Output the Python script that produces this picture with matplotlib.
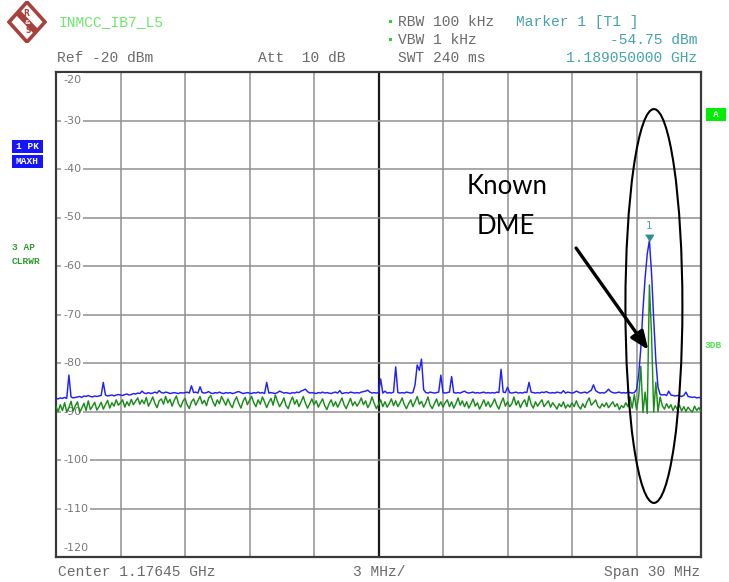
import numpy as np
import matplotlib
matplotlib.use("Agg")
import matplotlib.pyplot as plt
from matplotlib.patches import Ellipse, Polygon, Rectangle
from matplotlib.transforms import offset_copy

# ---- instrument settings -------------------------------------------------
center_ghz = 1.17645
span_mhz = 30.0
ref_level_dbm = -20
y_bottom_dbm = -120
n_points = 301
freq_offset_mhz = np.linspace(-span_mhz / 2, span_mhz / 2, n_points)

# ---- trace 1: PK / MAXH (dBm) ---------------------------------------------
trace1_maxhold = [
    -87.3, -87.4, -87.2, -87.3, -87.1, -87.3, -82.5, -87.0, -87.2, -87.1,
    -87.0, -86.9, -87.1, -86.8, -86.9, -86.7, -86.9, -87.0, -86.8, -86.9,
    -86.8, -86.7, -84.0, -86.6, -86.8, -86.7, -86.6, -86.8, -86.6, -86.5,
    -86.6, -86.7, -86.5, -86.4, -86.6, -86.5, -86.3, -86.4, -86.2, -86.3,
    -85.8, -86.2, -86.3, -86.1, -86.3, -86.2, -86.0, -86.2, -85.7, -86.1,
    -86.2, -86.0, -86.1, -86.3, -86.2, -86.1, -86.2, -86.3, -86.1, -86.2,
    -86.1, -86.0, -86.2, -84.7, -86.1, -86.0, -86.2, -84.9, -86.1, -86.2,
    -86.1, -85.9, -86.2, -86.3, -86.1, -86.2, -86.0, -86.2, -86.3, -86.1,
    -86.2, -86.1, -86.3, -86.2, -86.0, -85.9, -86.1, -86.3, -86.2, -86.1,
    -86.2, -86.3, -86.1, -86.2, -86.0, -86.2, -86.1, -86.3, -84.0, -86.2,
    -86.1, -86.2, -86.3, -86.1, -85.8, -86.0, -86.2, -86.1, -86.2, -86.3,
    -86.1, -86.2, -86.0, -86.1, -85.8, -85.6, -85.4, -85.9, -86.2, -86.1,
    -86.2, -86.3, -86.1, -86.2, -86.0, -86.2, -86.1, -86.2, -86.3, -86.1,
    -86.0, -86.2, -85.7, -86.3, -86.2, -86.1, -86.2, -86.0, -86.1, -86.2,
    -86.1, -86.2, -86.0, -85.9, -85.8, -85.6, -86.0, -86.2, -86.1, -86.2,
    -86.1, -83.3, -86.2, -85.8, -86.2, -86.1, -86.2, -86.0, -80.8, -86.1,
    -86.2, -86.1, -86.2, -86.0, -86.1, -86.2, -86.1, -84.5, -80.4, -81.5,
    -79.2, -85.5, -86.1, -86.2, -86.0, -86.1, -86.2, -86.1, -86.0, -82.5,
    -86.1, -86.2, -86.1, -86.0, -82.8, -86.1, -86.2, -86.1, -86.2, -86.0,
    -85.8, -86.1, -86.2, -86.1, -86.0, -86.2, -86.1, -86.2, -86.1, -86.0,
    -86.2, -86.1, -86.2, -86.1, -86.2, -86.0, -86.1, -81.3, -86.0, -86.1,
    -85.0, -86.1, -86.2, -86.1, -86.0, -86.2, -86.1, -86.2, -86.0, -86.1,
    -84.0, -86.0, -86.1, -86.2, -86.1, -86.2, -86.0, -86.1, -85.9, -86.1,
    -86.2, -86.1, -86.2, -86.0, -86.1, -86.2, -85.7, -86.2, -86.0, -86.1,
    -86.2, -86.1, -85.8, -86.0, -86.2, -86.1, -86.0, -86.2, -85.9, -85.6,
    -84.5, -85.7, -86.0, -86.2, -86.1, -86.2, -85.9, -85.4, -85.9, -86.1,
    -86.2, -86.1, -86.0, -86.2, -86.1, -86.2, -86.0, -86.1, -86.2, -86.1,
    -85.5, -82.5, -77.0, -69.0, -62.5, -57.5, -54.75, -61.5, -71.0, -79.5,
    -85.0, -86.5, -86.6, -86.5, -86.7, -85.8, -86.6, -86.7, -86.8, -86.7,
    -86.8, -86.9, -86.7, -86.0, -86.9, -87.0, -87.1, -87.0, -87.2, -87.1,
    -87.2,
]

# ---- trace 3: AP / CLRWR (dBm) --------------------------------------------
trace3_clearwrite = [
    -89.0, -90.0, -88.6, -89.8, -88.2, -90.1, -89.2, -87.9, -89.9, -88.8,
    -88.0, -90.2, -89.3, -88.3, -89.8, -87.8, -89.6, -88.9, -88.1, -89.7,
    -89.0, -88.1, -89.5, -88.6, -87.7, -89.3, -88.2, -88.9, -87.6, -88.7,
    -88.2, -87.6, -89.1, -88.0, -88.8, -87.5, -88.6, -87.9, -87.2, -88.5,
    -87.6, -88.4, -87.1, -88.9, -88.0, -87.0, -88.3, -89.2, -87.8, -87.4,
    -88.5, -86.9, -88.2, -87.5, -88.9, -87.7, -86.8, -88.4, -89.1, -87.9,
    -87.3, -88.6, -89.4, -88.0, -87.4, -88.7, -87.8, -86.9, -88.4, -87.7,
    -88.8, -87.2, -86.7, -88.0, -88.9, -87.6, -88.4, -86.9, -87.8, -88.7,
    -87.4, -88.5, -89.2, -87.8, -87.0, -88.3, -89.3, -87.9, -87.1, -88.6,
    -87.7, -86.9, -88.2, -89.0, -87.6, -88.5, -87.0, -88.0, -89.2, -88.1,
    -87.3, -88.7, -86.6, -87.9, -89.0, -88.2, -87.2, -88.8, -89.4, -88.0,
    -87.0, -88.5, -87.6, -89.0, -88.0, -86.9, -88.3, -89.3, -88.4, -87.4,
    -88.6, -87.8, -89.1, -88.2, -87.4, -88.8, -89.6, -88.4, -87.6, -88.9,
    -88.0, -89.1, -88.2, -87.2, -88.6, -89.4, -88.3, -87.3, -88.8, -88.0,
    -88.9, -88.2, -87.2, -88.6, -87.8, -89.2, -88.4, -87.0, -88.3, -89.4,
    -88.6, -87.6, -89.0, -88.0, -89.1, -88.4, -87.4, -88.8, -87.8, -89.0,
    -88.2, -87.2, -88.6, -89.4, -88.4, -87.6, -89.0, -88.0, -86.9, -88.5,
    -87.9, -89.1, -88.2, -87.0, -88.7, -89.4, -88.4, -87.4, -88.9, -88.0,
    -89.1, -88.2, -87.6, -89.0, -88.0, -89.3, -88.4, -87.2, -88.7, -87.8,
    -89.0, -88.0, -89.3, -88.4, -87.4, -88.9, -88.2, -89.5, -88.6, -87.6,
    -88.9, -88.0, -89.1, -88.4, -87.4, -88.7, -89.5, -88.2, -87.2, -88.9,
    -88.0, -89.0, -88.4, -87.0, -88.7, -87.8, -89.2, -88.2, -87.6, -89.0,
    -86.8, -88.5, -89.3, -88.0, -88.9, -88.2, -87.6, -89.0, -88.4, -87.8,
    -89.1, -88.2, -88.8, -89.5, -88.4, -89.0, -88.0, -89.3, -88.6, -89.1,
    -88.2, -89.0, -87.8, -88.9, -89.5, -88.4, -89.2, -88.0, -87.2, -88.7,
    -88.2, -87.6, -88.9, -89.3, -88.4, -89.0, -88.2, -89.2, -88.6, -88.0,
    -89.0, -88.4, -89.6, -88.8, -89.2, -88.2, -89.0, -87.0, -89.3, -86.5,
    -89.6, -87.0, -80.7, -90.2, -86.0, -90.4, -63.9, -74.2, -90.1, -84.0,
    -90.0, -87.0, -88.8, -89.5, -88.4, -89.3, -88.6, -89.8, -88.8, -89.6,
    -88.7, -89.9, -89.0, -90.0, -89.1, -89.7, -90.1, -88.9, -89.8, -89.2,
    -90.0,
]

level_gridlines_dbm = [-30, -40, -50, -60, -70, -80, -90, -100, -110]
level_labels = ["-20", "-30", "-40", "-50", "-60", "-70", "-80", "-90",
                "-100", "-110", "-120"]
level_label_values = [-20, -30, -40, -50, -60, -70, -80, -90, -100, -110, -120]

marker_freq_ghz = 1.189050000
marker_level_dbm = -54.75

# ---- figure layout (pixel helpers) ---------------------------------------
W, H = 729, 582
fig = plt.figure(figsize=(W / 100, H / 100), dpi=100)
fig.patch.set_facecolor("white")


def fx(x):
    return x / W


def fy(y):
    return 1 - y / H


ax = fig.add_axes([fx(56), fy(557), (701 - 56) / W, (557 - 72) / H])
ax.set_xlim(-span_mhz / 2, span_mhz / 2)
ax.set_ylim(y_bottom_dbm, ref_level_dbm)
ax.set_xticks([])
ax.set_yticks([])
for sp in ax.spines.values():
    sp.set_color("#3a3a3a")
    sp.set_linewidth(1.6)

grid_col = "#8f8f8f"
for f in np.arange(-span_mhz / 2, span_mhz / 2 + 0.1, span_mhz / 10):
    if abs(f) < 1e-9:
        ax.axvline(f, color="#1a1a1a", lw=1.6, zorder=1)
    else:
        ax.axvline(f, color=grid_col, lw=1.1, zorder=1)
for lv in level_gridlines_dbm:
    ax.axhline(lv, color=grid_col, lw=1.1, zorder=1)

# level scale written inside the graticule
lab_font = dict(family="DejaVu Sans", size=8.0, color="#7a7a7a")
for lab, val in zip(level_labels, level_label_values):
    if val == ref_level_dbm:
        va, yv = "top", val - 0.7
    elif val == y_bottom_dbm:
        va, yv = "bottom", val + 0.9
    else:
        va, yv = "center", val
    t = ax.text(0.0, yv, lab, va=va, ha="left", zorder=3,
                transform=offset_copy(ax.get_yaxis_transform(), fig=fig,
                                      x=7, y=0, units="dots"),
                **lab_font)
    t.set_bbox(dict(facecolor="white", edgecolor="none", pad=1.5))

# traces
ax.plot(freq_offset_mhz, trace1_maxhold, color="#1f1fff", lw=1.05, zorder=4)
ax.plot(freq_offset_mhz, trace3_clearwrite, color="#1b8c1b", lw=1.05, zorder=5)

# marker 1
marker_x = (marker_freq_ghz - center_ghz) * 1000
ax.plot([marker_x], [marker_level_dbm], marker=[(-1, 1.6), (1, 1.6), (0, 0)],
        ms=9, color="#2b8f95", zorder=6, lw=0)
ax.annotate("1", (marker_x, marker_level_dbm), xytext=(0, 10.5),
            textcoords="offset points", ha="center", va="center",
            family="DejaVu Sans", fontsize=7.5, color="#4aa6aa", zorder=6)

# highlight of the DME signal
ax.add_patch(Ellipse((12.81, -68.25), 2.65, 81.2, fill=False,
                     edgecolor="black", lw=1.5, zorder=7))
ax.annotate("", xy=(12.55, -77.3), xytext=(9.19, -56.3),
            arrowprops=dict(arrowstyle="-|>,head_length=1.1,head_width=0.45",
                            color="black", lw=2.4, shrinkA=0, shrinkB=0),
            zorder=8)
fig.text(fx(507), fy(186), "Known", ha="center", va="center",
         family="Lato", fontsize=18.5, color="black")
fig.text(fx(506), fy(226), "DME", ha="center", va="center",
         family="Lato", fontsize=18.5, color="black")

# ---- header and footer annotation ----------------------------------------
mono = dict(family="Liberation Mono", fontsize=10.5)
gray = "#6a6a6a"
teal = "#45a3aa"
fig.text(fx(58), fy(22), "INMCC_IB7_L5", color="#6ae86a", va="center", **mono)
fig.text(fx(57), fy(58), "Ref -20 dBm", color=gray, va="center", **mono)
fig.text(fx(258), fy(58), "Att  10 dB", color=gray, va="center", **mono)
fig.text(fx(398), fy(22), "RBW 100 kHz", color=gray, va="center", **mono)
fig.text(fx(398), fy(40), "VBW 1 kHz", color=gray, va="center", **mono)
fig.text(fx(398), fy(58), "SWT 240 ms", color=gray, va="center", **mono)
for yy in (21, 39):
    fig.patches.append(Rectangle((fx(389), fy(yy + 1.5)), 3 / W, 3 / H,
                                 transform=fig.transFigure,
                                 facecolor="#33cc33", edgecolor="none"))
fig.text(fx(516), fy(22), "Marker 1 [T1 ]", color=teal, va="center", **mono)
fig.text(fx(697), fy(40), f"{marker_level_dbm:.2f} dBm", color=teal,
         va="center", ha="right", **mono)
fig.text(fx(697), fy(58), f"{marker_freq_ghz:.9f} GHz", color=teal,
         va="center", ha="right", **mono)

fig.text(fx(58), fy(572), f"Center {center_ghz:.5f} GHz", color=gray,
         va="center", **mono)
fig.text(fx(353), fy(572), f"{span_mhz / 10:.0f} MHz/", color=gray,
         va="center", **mono)
fig.text(fx(700), fy(572), f"Span {span_mhz:.0f} MHz", color=gray,
         va="center", ha="right", **mono)

# trace info boxes on the left
small = dict(family="Liberation Mono", fontsize=6.8, fontweight="bold")
for (y0, y1, label) in [(140, 153, "1 PK"), (155, 168, "MAXH")]:
    fig.patches.append(Rectangle((fx(12), fy(y1)), 31 / W, (y1 - y0) / H,
                                 transform=fig.transFigure,
                                 facecolor="#1414ff", edgecolor="none"))
    fig.text(fx(27.5), fy((y0 + y1) / 2), label, color="white", ha="center",
             va="center", **small)
fig.text(fx(12), fy(247), "3 AP", color="#2f9a2f", va="center", **small)
fig.text(fx(12), fy(262), "CLRWR", color="#2f9a2f", va="center", **small)

# right side indicators
fig.patches.append(Rectangle((fx(706), fy(121)), 20 / W, 13 / H,
                             transform=fig.transFigure,
                             facecolor="#00ee00", edgecolor="none"))
fig.text(fx(716), fy(114.5), "A", color="white", ha="center", va="center",
         **small)
fig.text(fx(705), fy(346), "3DB", color="#4be84b", va="center", **small)

# ---- maker logo ----------------------------------------------------------
lax = fig.add_axes([fx(7), fy(43), 40 / W, 42 / H])
lax.set_xlim(-1, 1)
lax.set_ylim(-1, 1)
lax.axis("off")
red = "#a8403c"
lax.add_patch(Polygon([(0, 0.95), (0.9, 0), (0, -0.95), (-0.9, 0)],
                      closed=True, facecolor="white", edgecolor=red, lw=2.6))
lax.add_patch(Polygon([(-0.6, 0.38), (-0.38, 0.6), (0.6, -0.38),
                       (0.38, -0.6)], closed=True, facecolor=red,
                      edgecolor="none"))
lax.text(-0.05, 0.42, "R", color=red, fontsize=5.5, ha="center", va="center",
         family="DejaVu Sans", fontweight="bold")
lax.text(0.0, 0.0, "&", color="white", fontsize=4.5, ha="center", va="center",
         family="DejaVu Sans", fontweight="bold")
lax.text(0.05, -0.42, "S", color=red, fontsize=5.5, ha="center", va="center",
         family="DejaVu Sans", fontweight="bold")

fig.savefig("out.png", dpi=100, facecolor="white")
